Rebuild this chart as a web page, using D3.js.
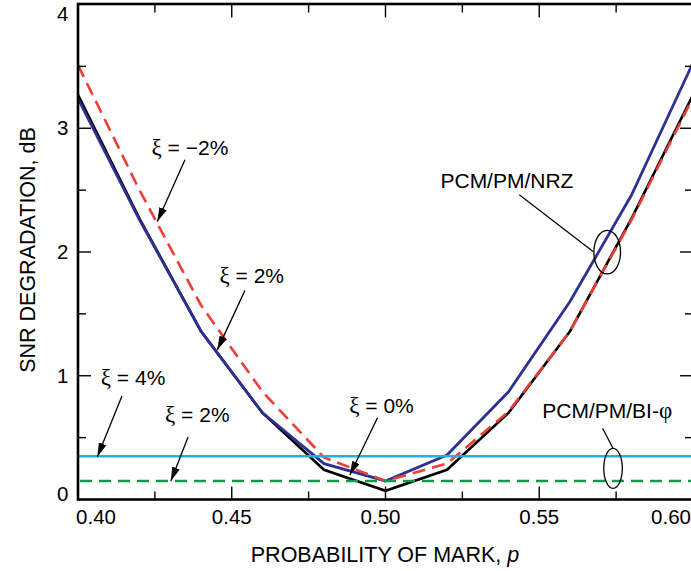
<!DOCTYPE html>
<html>
<head>
<meta charset="utf-8">
<script src="https://cdn.jsdelivr.net/npm/d3@7"></script>
<style>
	body { margin: 0; background: #fff; }
	svg { display: block; font-family: 'Liberation Sans', Arial, Helvetica, sans-serif; }
	.greek { font-family: 'Liberation Serif', 'Times New Roman', serif; font-size: 23px; }
</style>
</head>
<body>
<script>

// Probability of mark (x) and SNR degradation in dB (y)
var probabilities = [0.40, 0.42, 0.44, 0.46, 0.48, 0.50, 0.52, 0.54, 0.56, 0.58, 0.60];
var nrzXiZero     = [3.27, 2.27, 1.36, 0.70, 0.24, 0.07, 0.24, 0.70, 1.36, 2.27, 3.27];
var nrzXiPlus2    = [3.24, 2.26, 1.36, 0.70, 0.29, 0.15, 0.36, 0.87, 1.60, 2.46, 3.53];
var nrzXiMinus2   = [3.51, 2.50, 1.57, 0.87, 0.34, 0.15, 0.29, 0.71, 1.36, 2.26, 3.25];

// Bi-phase curves are flat
var biPhaseXi4 = 0.35;
var biPhaseXi2 = 0.15;

var xMajorTicks = [0.40, 0.45, 0.50, 0.55, 0.60];
var xMinorTicks = [0.425, 0.475, 0.525, 0.575];
var xTickLabels = ['0.40', '0.45', '0.50', '0.55', '0.60'];
var yMajorTicks = [0, 1, 2, 3, 4];
var yMinorTicks = [0.5, 1.5, 2.5, 3.5];
var yTickLabels = ['0', '1', '2', '3', '4'];

var xTitle = 'PROBABILITY OF MARK, ';
var yTitle = 'SNR DEGRADATION, dB';

var width = 691, height = 571;
var margin = {left: 78, top: 4.5, right: 693, bottom: 499.5};

var svg = d3.select('body').append('svg')
		.attr('width', width)
		.attr('height', height);

var x = d3.scaleLinear().domain([0.40, 0.60]).range([margin.left, margin.right]);
var y = d3.scaleLinear().domain([0, 4]).range([margin.bottom, margin.top]);

svg.append('defs').append('clipPath').attr('id', 'plotClip')
		.append('rect')
		.attr('x', margin.left).attr('y', margin.top)
		.attr('width', margin.right - margin.left).attr('height', margin.bottom - margin.top);

svg.select('defs').append('marker')
		.attr('id', 'arrowHead')
		.attr('viewBox', '0 0 14 8')
		.attr('refX', 14).attr('refY', 4)
		.attr('markerWidth', 14).attr('markerHeight', 8)
		.attr('markerUnits', 'userSpaceOnUse')
		.attr('orient', 'auto')
		.append('path').attr('d', 'M0,0 L14,4 L0,8 Z').style('fill', '#000');

var plot = svg.append('g').attr('clip-path', 'url(#plotClip)');

// 1. NRZ curves
var curve = function(values) {
	return d3.line()
			.x(function(d, i) { return x(probabilities[i]); })
			.y(function(d) { return y(d); })(values);
};

plot.append('path').attr('d', curve(nrzXiZero))
		.style('fill', 'none').style('stroke', '#000').style('stroke-width', 2.6);

plot.append('path').attr('d', curve(nrzXiPlus2))
		.style('fill', 'none').style('stroke', '#2e3192').style('stroke-width', 2.8);

plot.append('path').attr('d', curve(nrzXiMinus2))
		.style('fill', 'none').style('stroke', '#ef3e36').style('stroke-width', 2.6)
		.style('stroke-dasharray', '13,7');

// 2. Bi-phase lines
plot.append('line')
		.attr('x1', x(0.40)).attr('x2', x(0.60))
		.attr('y1', y(biPhaseXi4)).attr('y2', y(biPhaseXi4))
		.style('stroke', '#1fb1e6').style('stroke-width', 2.4);

plot.append('line')
		.attr('x1', x(0.40)).attr('x2', x(0.60))
		.attr('y1', y(biPhaseXi2)).attr('y2', y(biPhaseXi2))
		.style('stroke', '#15984a').style('stroke-width', 2.6)
		.style('stroke-dasharray', '12,7').attr('stroke-dashoffset', -2);

// 3. Frame and ticks
svg.append('rect')
		.attr('x', margin.left).attr('y', margin.top - 0.5)
		.attr('width', margin.right - margin.left).attr('height', margin.bottom - margin.top + 0.5)
		.style('fill', 'none').style('stroke', '#000').style('stroke-width', 2.6);

var tickStyle = function(sel) { return sel.style('stroke', '#000').style('stroke-width', 1.4); };

var drawXTicks = function(ticks, len) {
	ticks.forEach(function(t) {
		tickStyle(svg.append('line').attr('x1', x(t)).attr('x2', x(t)).attr('y1', margin.bottom).attr('y2', margin.bottom - len));
		tickStyle(svg.append('line').attr('x1', x(t)).attr('x2', x(t)).attr('y1', margin.top).attr('y2', margin.top + len));
	});
};
var drawYTicks = function(ticks, len) {
	ticks.forEach(function(t) {
		tickStyle(svg.append('line').attr('x1', margin.left).attr('x2', margin.left + len).attr('y1', y(t)).attr('y2', y(t)));
		tickStyle(svg.append('line').attr('x1', margin.right).attr('x2', margin.right - len).attr('y1', y(t)).attr('y2', y(t)));
	});
};
drawXTicks(xMajorTicks.slice(1, -1), 13);
drawXTicks(xMinorTicks, 8);
drawYTicks(yMajorTicks.slice(1, -1), 13);
drawYTicks(yMinorTicks, 8);

// Tick labels (the end labels are pushed inside in the original figure)
svg.selectAll('.xLabel').data(xMajorTicks).enter().append('text')
		.attr('class', 'xLabel')
		.attr('x', function(d, i) {
			if (i == 0) return x(d) + 18;
			if (i == xMajorTicks.length - 1) return x(d) - 22;
			if (d == 0.50) return x(d) - 5;
			return x(d);
		})
		.attr('y', 524)
		.attr('text-anchor', 'middle')
		.style('font-size', '20.5px')
		.text(function(d, i) { return xTickLabels[i]; });

svg.selectAll('.yLabel').data(yMajorTicks).enter().append('text')
		.attr('class', 'yLabel')
		.attr('x', 68.5)
		.attr('y', function(d, i) {
			if (i == 0) return y(d) + 1;
			if (i == yMajorTicks.length - 1) return y(d) + 16;
			return y(d) + 7;
		})
		.attr('text-anchor', 'end')
		.style('font-size', '20.5px')
		.text(function(d, i) { return yTickLabels[i]; });

// Axis titles
var xt = svg.append('text')
		.attr('x', 385).attr('y', 561.5)
		.attr('text-anchor', 'middle')
		.style('font-size', '21.5px');
xt.append('tspan').text(xTitle);
xt.append('tspan').style('font-style', 'italic').text('p');

svg.append('text')
		.attr('transform', 'translate(34.5,250) rotate(-90)')
		.attr('text-anchor', 'middle')
		.style('font-size', '21.5px')
		.text(yTitle);

// 4. Annotations, placed in data coordinates
var arrows = [
	{value: ' = \u22122%', tx: 0.4364, ty: 2.787, from: [0.4348, 2.745], to: [0.4258, 2.247]},
	{value: ' = 2%', tx: 0.4565, ty: 1.751, from: [0.4543, 1.690], to: [0.4453, 1.209]},
	{value: ' = 4%', tx: 0.4179, ty: 0.926, from: [0.4143, 0.837], to: [0.4063, 0.345]},
	{value: ' = 2%', tx: 0.4388, ty: 0.626, from: [0.4358, 0.505], to: [0.4302, 0.149]},
	{value: ' = 0%', tx: 0.4987, ty: 0.697, from: [0.4974, 0.660], to: [0.4884, 0.198]}
];

arrows.forEach(function(a) {
	var t = svg.append('text')
			.attr('x', x(a.tx)).attr('y', y(a.ty))
			.attr('text-anchor', 'middle')
			.style('font-size', '21px');
	t.append('tspan').attr('class', 'greek').text('\u03BE');
	t.append('tspan').text(a.value);
	svg.append('line')
			.attr('x1', x(a.from[0])).attr('y1', y(a.from[1]))
			.attr('x2', x(a.to[0])).attr('y2', y(a.to[1]))
			.style('stroke', '#000').style('stroke-width', 1.3)
			.attr('marker-end', 'url(#arrowHead)');
});

var callouts = [
	{text: 'PCM/PM/NRZ', greek: '', tx: 0.5395, ty: 2.517, from: [0.5435, 2.463], to: [0.5675, 2.004], cx: 0.5721, cy: 1.999, rx: 13.3, ry: 21.8},
	{text: 'PCM/PM/BI-', greek: '\u03C6', tx: 0.5721, ty: 0.656, from: [0.5706, 0.575], to: [0.5740, 0.413], cx: 0.5740, cy: 0.252, rx: 9.3, ry: 20}
];

callouts.forEach(function(c) {
	var t = svg.append('text')
			.attr('x', x(c.tx)).attr('y', y(c.ty))
			.attr('text-anchor', 'middle')
			.style('font-size', '21px');
	t.append('tspan').text(c.text);
	if (c.greek) t.append('tspan').attr('class', 'greek').text(c.greek);
	svg.append('line')
			.attr('x1', x(c.from[0])).attr('y1', y(c.from[1]))
			.attr('x2', x(c.to[0])).attr('y2', y(c.to[1]))
			.style('stroke', '#000').style('stroke-width', 1.2);
	svg.append('ellipse')
			.attr('cx', x(c.cx)).attr('cy', y(c.cy))
			.attr('rx', c.rx).attr('ry', c.ry)
			.style('fill', 'none').style('stroke', '#000').style('stroke-width', 1.3);
});

</script>
</body>
</html>
